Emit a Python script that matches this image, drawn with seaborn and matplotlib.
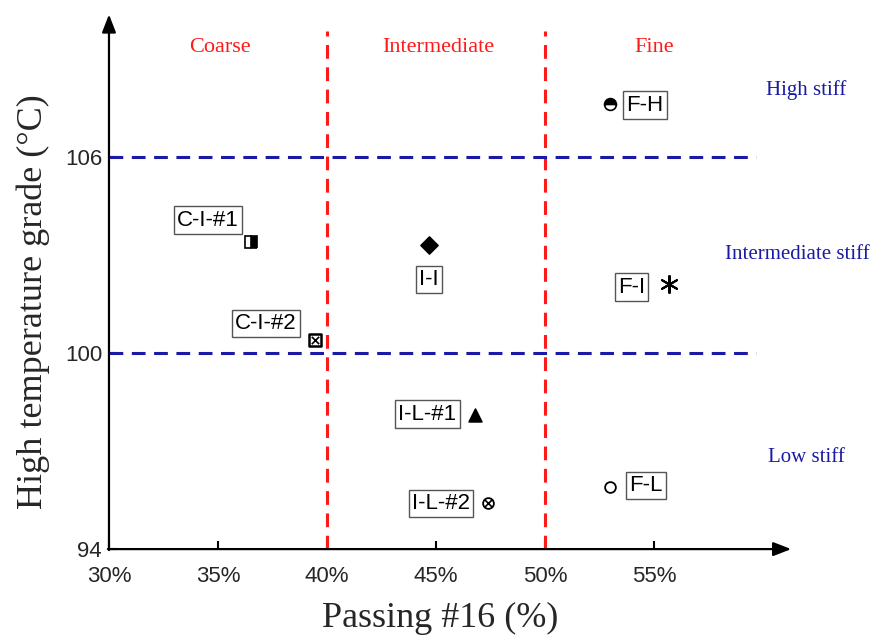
import matplotlib
matplotlib.use("Agg")
import matplotlib.pyplot as plt
import seaborn as sns
import pandas as pd

# Mixture data: passing #16 sieve (%) vs. high temperature PG grade (°C)
mix_names = ["C-I-#1", "C-I-#2", "I-I", "F-H", "F-I", "I-L-#1", "I-L-#2", "F-L"]
passing_16 = [36.5, 39.45, 44.7, 53.0, 55.7, 46.8, 47.4, 53.0]
high_temp_grade = [103.4, 100.4, 103.3, 107.6, 102.1, 98.1, 95.4, 95.9]
label_x = [34.55, 37.2, 44.68, 54.6, 53.97, 44.6, 45.23, 54.63]
label_y = [104.06, 100.9, 102.24, 107.58, 102.01, 98.13, 95.39, 95.94]

gradation_bounds = [40, 50]
gradation_names = ["Coarse", "Intermediate", "Fine"]
gradation_label_x = [35.1, 45.1, 55.0]
stiffness_bounds = [100, 106]
stiffness_names = ["High stiff", "Intermediate stiff", "Low stiff"]
stiffness_label_x = [62.0, 61.6, 62.0]
stiffness_label_y = [108.05, 103.0, 96.8]

x_ticks = [30, 35, 40, 45, 50, 55]
x_tick_labels = ["30%", "35%", "40%", "45%", "50%", "55%"]
y_ticks = [94, 100, 106]

sns.set_theme(style="white")
plt.rcParams["font.family"] = ["Liberation Sans", "DejaVu Sans"]

fig = plt.figure(figsize=(8.86, 6.37), dpi=100)
ax = fig.add_axes([0.123, 0.138, 0.861, 0.847])
ax.set_xlim(30, 65)
ax.set_ylim(94, 110.5)
for s in ax.spines.values():
    s.set_visible(False)

serif = ["Liberation Serif", "DejaVu Serif"]

# Region boundaries
for xb in gradation_bounds:
    ax.plot([xb, xb], [94, 109.85], color="#ff1a1a", lw=2.2, ls=(0, (4.5, 2.8)), zorder=1)
for yb in stiffness_bounds:
    ax.plot([30, 59.7], [yb, yb], color="#1a1aa6", lw=2.2, ls=(0, (4.5, 2.8)), zorder=1)

# Axes with arrow heads
arrow = dict(arrowstyle="-|>,head_length=0.9,head_width=0.35", color="black", lw=1.6,
             shrinkA=0, shrinkB=0)
ax.annotate("", xy=(61.3, 94), xytext=(29.95, 94), arrowprops=arrow, zorder=3, annotation_clip=False)
ax.annotate("", xy=(30, 110.35), xytext=(30, 93.97), arrowprops=arrow, zorder=3, annotation_clip=False)

df = pd.DataFrame({"name": mix_names, "passing": passing_16, "grade": high_temp_grade})

# Simple markers drawn through seaborn
simple = {"I-I": ("D", 75, 1.2), "F-I": ((6, 2, 0), 150, 1.5), "I-L-#1": ("^", 85, 1.2)}
for name, (mk, size, lw) in simple.items():
    sns.scatterplot(data=df[df["name"] == name], x="passing", y="grade", marker=mk,
                    s=size, color="black", edgecolor="black",
                    linewidth=lw, ax=ax, zorder=4)

sns.scatterplot(data=df[df["name"].isin(["F-L", "I-L-#2"])], x="passing", y="grade",
                marker="o", s=60, facecolor="white", edgecolor="black", linewidth=1.3,
                ax=ax, zorder=4)
sns.scatterplot(data=df[df["name"].isin(["C-I-#2"])], x="passing", y="grade",
                marker="s", s=70, facecolor="white", edgecolor="black", linewidth=1.8,
                ax=ax, zorder=4)
sns.scatterplot(data=df[df["name"].isin(["C-I-#2", "I-L-#2"])], x="passing", y="grade",
                marker="x", s=28, color="black", linewidth=1.2, ax=ax, zorder=5)

# Half-filled markers
row = df[df["name"] == "C-I-#1"].iloc[0]
ax.plot(row.passing, row.grade, marker="s", ms=8, fillstyle="right", color="black",
        markerfacecoloralt="white", mew=1.2, zorder=4)
row = df[df["name"] == "F-H"].iloc[0]
ax.plot(row.passing, row.grade, marker="o", ms=8.5, fillstyle="top", color="black",
        markerfacecoloralt="white", mew=1.2, zorder=4)

# Boxed mixture labels
for name, lx, ly in zip(mix_names, label_x, label_y):
    ax.text(lx, ly, name, ha="center", va="center", fontsize=16, color="black",
            bbox=dict(boxstyle="square,pad=0.15", fc="white", ec="#555555", lw=1.0), zorder=6)

for name, gx in zip(gradation_names, gradation_label_x):
    ax.text(gx, 109.35, name, ha="center", va="center", color="#ff1a1a",
            fontsize=16, family=serif)
for name, sx, sy in zip(stiffness_names, stiffness_label_x, stiffness_label_y):
    ax.text(sx, sy, name, ha="center", va="center", color="#1a1aa6",
            fontsize=15, family=serif)

ax.set_xticks(x_ticks)
ax.set_xticklabels(x_tick_labels)
ax.set_yticks(y_ticks)
ax.tick_params(axis="both", direction="in", length=6, width=1.5, color="black",
               labelsize=16, pad=5, bottom=True, left=True)
ax.tick_params(axis="x", pad=12)

ax.set_xlabel("Passing #16 (%)", fontsize=26, family=serif)
ax.set_ylabel("High temperature grade (°C)", fontsize=26, family=serif)
ax.xaxis.set_label_coords(0.434, -0.098)
ax.yaxis.set_label_coords(-0.077, 0.458)
ax.grid(False)

fig.savefig("out.png", dpi=100)
